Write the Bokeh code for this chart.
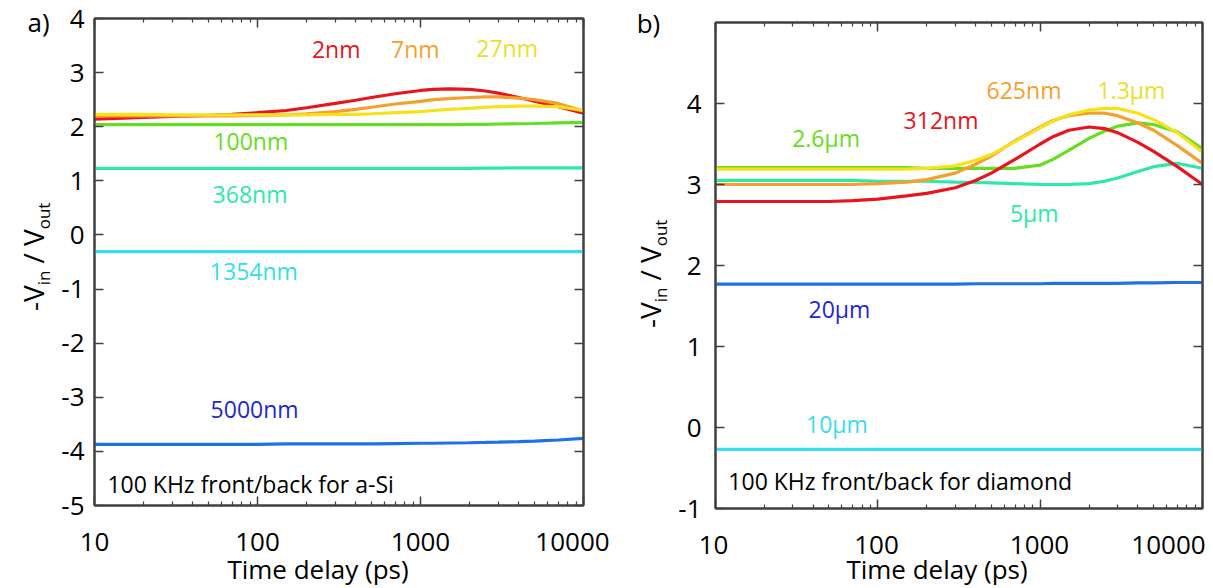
import math
from bokeh.plotting import figure
from bokeh.models import FixedTicker, LinearAxis, LogAxis, Range1d
from bokeh.layouts import row, column
from bokeh.embed import file_html
from bokeh.resources import INLINE
from bokeh.core.properties import value

# ---------------- data ----------------
x_a = [10, 20, 30, 50, 70, 100, 150, 200, 300, 400, 500, 700, 1000, 1200, 1500, 2000, 2500, 3000, 4000, 5000, 7000, 10000]
a_2nm    = [2.14, 2.17, 2.19, 2.21, 2.23, 2.26, 2.30, 2.35, 2.43, 2.49, 2.54, 2.61, 2.67, 2.69, 2.70, 2.69, 2.66, 2.62, 2.54, 2.47, 2.37, 2.25]
a_7nm    = [2.20, 2.20, 2.20, 2.20, 2.20, 2.21, 2.22, 2.24, 2.28, 2.32, 2.36, 2.42, 2.47, 2.50, 2.52, 2.54, 2.55, 2.55, 2.53, 2.50, 2.43, 2.29]
a_27nm   = [2.23, 2.23, 2.22, 2.22, 2.22, 2.22, 2.22, 2.22, 2.23, 2.23, 2.24, 2.26, 2.28, 2.30, 2.32, 2.34, 2.36, 2.37, 2.38, 2.38, 2.37, 2.30]
a_100nm  = [2.04, 2.04, 2.04, 2.04, 2.04, 2.04, 2.04, 2.04, 2.04, 2.04, 2.04, 2.04, 2.04, 2.04, 2.04, 2.045, 2.045, 2.05, 2.055, 2.06, 2.07, 2.08]
a_368nm  = [1.23, 1.23, 1.23, 1.23, 1.23, 1.23, 1.23, 1.23, 1.23, 1.23, 1.23, 1.23, 1.23, 1.23, 1.23, 1.23, 1.235, 1.235, 1.24, 1.24, 1.24, 1.24]
a_1354nm = [-0.31, -0.31, -0.31, -0.31, -0.31, -0.31, -0.31, -0.31, -0.31, -0.31, -0.31, -0.31, -0.31, -0.31, -0.31, -0.31, -0.31, -0.31, -0.31, -0.31, -0.31, -0.31]
a_5000nm = [-3.87, -3.87, -3.87, -3.87, -3.87, -3.87, -3.86, -3.86, -3.86, -3.86, -3.86, -3.855, -3.85, -3.85, -3.845, -3.84, -3.835, -3.83, -3.82, -3.81, -3.79, -3.76]

x_b = [10, 20, 30, 50, 70, 100, 150, 200, 300, 400, 500, 700, 1000, 1200, 1500, 2000, 2500, 3000, 4000, 5000, 7000, 10000]
b_312nm = [2.79, 2.79, 2.79, 2.79, 2.80, 2.82, 2.86, 2.89, 2.96, 3.05, 3.14, 3.31, 3.50, 3.59, 3.67, 3.71, 3.69, 3.64, 3.52, 3.41, 3.22, 3.00]
b_625nm = [3.00, 3.00, 3.00, 3.00, 3.00, 3.01, 3.03, 3.06, 3.14, 3.25, 3.35, 3.54, 3.71, 3.79, 3.85, 3.88, 3.88, 3.85, 3.76, 3.67, 3.48, 3.26]
b_1p3um = [3.19, 3.19, 3.19, 3.19, 3.19, 3.19, 3.19, 3.20, 3.23, 3.30, 3.37, 3.53, 3.70, 3.78, 3.86, 3.92, 3.94, 3.94, 3.88, 3.80, 3.64, 3.40]
b_2p6um = [3.21, 3.21, 3.21, 3.21, 3.21, 3.21, 3.21, 3.20, 3.20, 3.20, 3.20, 3.20, 3.24, 3.31, 3.42, 3.57, 3.66, 3.72, 3.76, 3.74, 3.65, 3.44]
b_5um   = [3.05, 3.05, 3.05, 3.05, 3.05, 3.04, 3.04, 3.04, 3.03, 3.025, 3.02, 3.01, 3.00, 3.00, 3.00, 3.01, 3.04, 3.08, 3.16, 3.22, 3.26, 3.20]
b_20um  = [1.77, 1.77, 1.77, 1.77, 1.77, 1.77, 1.77, 1.77, 1.77, 1.775, 1.775, 1.775, 1.775, 1.78, 1.78, 1.78, 1.78, 1.78, 1.785, 1.785, 1.79, 1.79]
b_10um  = [-0.27, -0.27, -0.27, -0.27, -0.27, -0.27, -0.27, -0.27, -0.27, -0.27, -0.27, -0.27, -0.27, -0.27, -0.27, -0.27, -0.27, -0.27, -0.27, -0.27, -0.27, -0.27]

labels_a   = ["2nm", "7nm", "27nm", "100nm", "368nm", "1354nm", "5000nm"]
lab_a_x    = [304, 930, 3400, 91, 90, 95, 96]
lab_a_y    = [3.43, 3.43, 3.45, 1.73, 0.75, -0.67, -3.21]
labels_b   = ["312nm", "625nm", "1.3µm", "2.6µm", "5µm", "20µm", "10µm"]
lab_b_x    = [245, 795, 3650, 48, 920, 58, 56]
lab_b_y    = [3.80, 4.17, 4.17, 3.57, 2.65, 1.46, 0.04]

x_ticks = [10, 100, 1000, 10000]
x_tick_text = ["10", "100", "1000", "10000"]
y_ticks_a = [-5, -4, -3, -2, -1, 0, 1, 2, 3, 4]
y_ticks_b = [-1, 0, 1, 2, 3, 4]
note_a = "100 KHz front/back for a-Si"
note_b = "100 KHz front/back for diamond"
x_title = "Time delay (ps)"
y_title_parts = ["-V", "in", "/ V", "out"]
panel_letters = ["a)", "b)"]

# ---------------- style ----------------
RED, ORANGE, YELLOW = "#e8141e", "#f5a02c", "#f7e01c"
GREEN, AQUA, CYAN = "#66dd22", "#2ee8a8", "#38dcee"
BLUE_LINE, BLUE_TXT = "#2070e8", "#1e28d2"
FONT = "Open Sans"
AX = "#404040"
H = 588

series_a = [(a_2nm, RED), (a_7nm, ORANGE), (a_27nm, YELLOW), (a_100nm, GREEN),
            (a_368nm, AQUA), (a_1354nm, CYAN), (a_5000nm, BLUE_LINE)]
colors_a_txt = [RED, ORANGE, "#e8e02c", GREEN, AQUA, CYAN, BLUE_TXT]
series_b = [(b_2p6um, GREEN), (b_5um, AQUA), (b_625nm, ORANGE), (b_1p3um, YELLOW),
            (b_312nm, RED), (b_20um, BLUE_LINE), (b_10um, CYAN)]
colors_b_txt = [RED, ORANGE, "#e8e02c", GREEN, AQUA, BLUE_TXT, CYAN]

minor = [m * d for d in (10, 100, 1000) for m in range(2, 10)]


def tick_style(ax, ticks, mnr, hide_labels):
    ax.ticker = FixedTicker(ticks=ticks, minor_ticks=mnr)
    ax.axis_line_color = AX
    ax.axis_line_width = 2
    ax.major_tick_line_color = AX
    ax.minor_tick_line_color = AX
    ax.major_tick_line_width = 1.5
    ax.minor_tick_line_width = 1.2
    ax.major_tick_in = 9
    ax.major_tick_out = 0
    ax.minor_tick_in = 4
    ax.minor_tick_out = 0
    if hide_labels:
        ax.major_label_overrides = {t: "" for t in ticks}
        ax.major_label_text_font_size = "2px"
        ax.major_label_text_color = None
        ax.major_label_standoff = 0


def blank_fig(width, height, xr, yr, x_type="linear"):
    f = figure(width=width, height=height, x_range=xr, y_range=yr, x_axis_type=x_type,
               x_axis_location=None, y_axis_location=None, min_border=0, title=None,
               frame_align=False, output_backend="svg", toolbar_location=None)
    f.grid.visible = False
    f.outline_line_color = None
    return f


def side_strip(width, letter, letter_xy, main_x, sub_x, y_start):
    # panel letter and the rotated y-axis title "-V_in / V_out"
    s = blank_fig(width, H, Range1d(0, width), Range1d(H, 0))
    s.text(x=[letter_xy[0]], y=[letter_xy[1]], text=[letter], text_align="center",
           text_baseline="middle", text_font=value(FONT), text_font_size=value("26px"),
           text_color="black")
    ends = [25.3, 40.0, 81.2, 107.9]
    xs = [main_x, sub_x, main_x, sub_x]
    sizes = [28, 17, 28, 17]
    for txt, e, x, fs in zip(y_title_parts, ends, xs, sizes):
        s.text(x=[x], y=[y_start - e], text=[txt], angle=math.pi / 2,
               text_align="right", text_baseline="middle", text_font=value(FONT),
               text_font_size=value(f"{fs}px"), text_color="black")
    return s


def bottom_strip(width, height, bl, br, tenk_off, tick_y, title_y):
    # x tick labels and x title, on the same log scale as the panel above
    L = (width - bl - br) / 3.0
    xr = Range1d(10 ** (1 - bl / L), 10 ** (4 + br / L))
    s = blank_fig(width, height, xr, Range1d(height, 0), x_type="log")
    s.text(x=x_ticks, y=[tick_y] * 4, text=x_tick_text, x_offset=[0, 0, 0, tenk_off],
           text_align="center", text_baseline="middle", text_font=value(FONT),
           text_font_size=value("26px"), text_color="black")
    s.text(x=[10 ** 2.5], y=[title_y], text=[x_title], x_offset=-21,
           text_align="center", text_baseline="middle", text_font=value(FONT),
           text_font_size=value("26px"), text_color="black")
    return s


def panel(width, height, yr, border, xs, series, labels, lx, ly, lcol, note, note_y,
          yticks, left_standoff):
    p = figure(width=width, height=height, x_axis_type="log", title=None,
               x_range=Range1d(10, 10000), y_range=Range1d(*yr), frame_align=False,
               output_backend="svg", toolbar_location=None,
               min_border_left=border[0], min_border_right=border[1],
               min_border_top=border[2], min_border_bottom=border[3])
    tick_style(p.xaxis[0], x_ticks, minor, True)
    tick_style(p.yaxis[0], yticks, [], False)
    p.yaxis.major_label_overrides = {t: str(t) for t in yticks}
    p.yaxis.major_label_text_font = FONT
    p.yaxis.major_label_text_font_size = "26px"
    p.yaxis.major_label_text_color = "black"
    p.yaxis.major_label_standoff = left_standoff
    top = LogAxis()
    right = LinearAxis()
    tick_style(top, x_ticks, minor, True)
    tick_style(right, yticks, [], True)
    p.add_layout(top, "above")
    p.add_layout(right, "right")
    p.outline_line_color = AX
    p.outline_line_width = 2
    p.xgrid.grid_line_color = None
    p.ygrid.grid_line_color = None
    for ys, c in series:
        p.line(xs, ys, line_color=c, line_width=3.2)
    p.text(x=lx, y=ly, text=labels, text_color=lcol, text_align="center",
           text_baseline="middle", text_font=value(FONT), text_font_size=value("23px"))
    p.text(x=[12], y=[note_y], text=[note], text_color="black", text_align="left",
           text_baseline="middle", text_font=value(FONT), text_font_size=value("23px"))
    return p


# panel a: frame x 94..583, y 18..505 ; panel b: frame x 713..1202, y 22..508
sa = side_strip(55, panel_letters[0], (38, 21), 32, 43, 310)
pa = panel(565, 523, (-5, 4), (39, 37, 18, 18), x_a, series_a, labels_a, lab_a_x, lab_a_y,
           colors_a_txt, note_a, -4.6, y_ticks_a, 10)
ba = bottom_strip(565, H - 523, 39, 37, -11, 18, 45)
sb = side_strip(55, panel_letters[1], (28, 22), 29, 40, 327)
pb = panel(538, 526, (-1, 5), (38, 11, 22, 18), x_b, series_b, labels_b, lab_b_x, lab_b_y,
           colors_b_txt, note_b, -0.66, y_ticks_b, 14)
bb = bottom_strip(538, H - 526, 38, 11, -34, 18, 42)

layout = row(sa, column(pa, ba), sb, column(pb, bb))
open("out.html", "w").write(file_html(layout, INLINE))
